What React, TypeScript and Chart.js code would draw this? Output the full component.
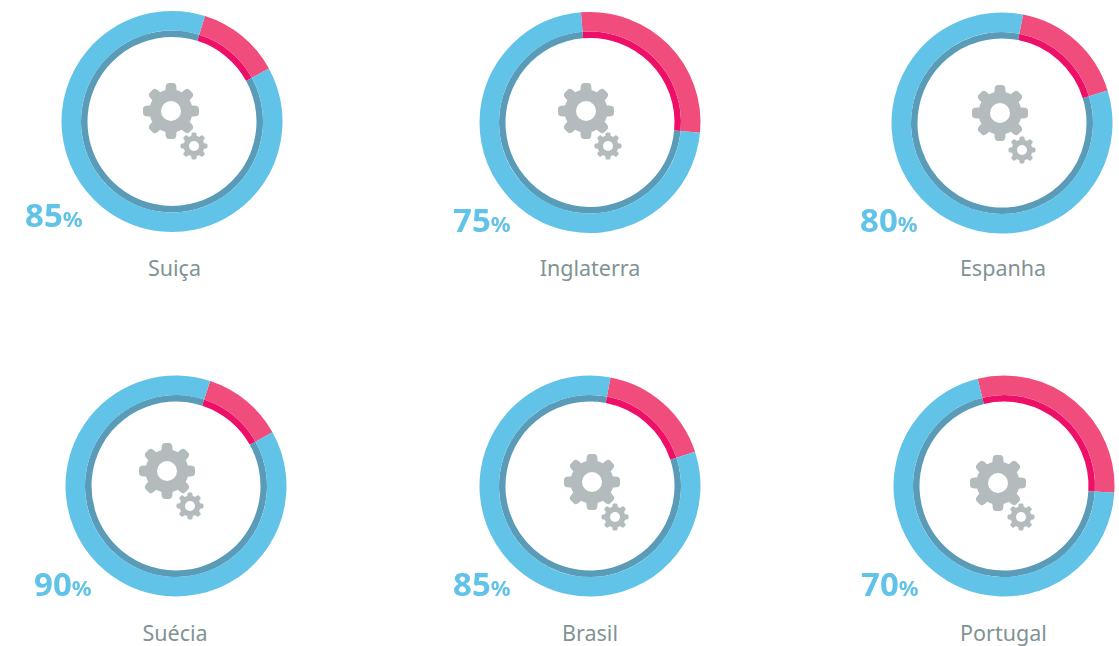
import React, { useEffect, useRef } from "react";
import { Chart, registerables } from "chart.js";

Chart.register(...registerables);

const countries = ["Suiça", "Inglaterra", "Espanha", "Suécia", "Brasil", "Portugal"];
const percentLabels = ["85", "75", "80", "90", "85", "70"];
const highlightShares = [12.2, 27.8, 17.2, 11.9, 17, 29.8];
const highlightStarts = [17.4, -4.7, 11, 18, 10.7, -13.8];

const centers = [[172, 121.5], [590, 122.5], [1002, 123], [176, 486], [590, 486], [1004, 486]];
const bigGears = [[171, 111], [586, 111], [1000, 113], [167, 471], [592, 482], [998, 483]];
const smallGears = [[194, 146], [608, 146], [1022, 150], [190, 506], [615, 517], [1021, 517]];
const percentX = [25, 453, 860, 34, 453, 861];
const percentBaseline = [235, 240, 240, 604, 604, 604];
const labelCenters = [174.5, 590, 1003, 175, 590, 1003.5];
const labelBaseline = [283, 283, 283, 648, 648, 648];

const BOX = 240;
const RADIUS = 110.5;
const FONT = '"Noto Sans", sans-serif';

function gearPath(ctx: CanvasRenderingContext2D, x: number, y: number, R: number, hole: number) {
  const edge = R * 0.07;
  const body = new Path2D();
  const n = 720;
  for (let i = 0; i <= n; i++) {
    const t = (i / n) * Math.PI * 2;
    const c = Math.max(0, Math.min(1, (Math.cos(8 * t) + 0.05) / 0.75));
    const s = c * c * (3 - 2 * c);
    const r = R * (0.7 + 0.23 * s);
    const px = x + Math.sin(t) * r;
    const py = y - Math.cos(t) * r;
    if (i === 0) body.moveTo(px, py);
    else body.lineTo(px, py);
  }
  body.closePath();
  ctx.fillStyle = "#B3BBBD";
  ctx.strokeStyle = "#B3BBBD";
  ctx.lineJoin = "round";
  ctx.lineWidth = edge * 2;
  ctx.fill(body);
  ctx.stroke(body);
  ctx.beginPath();
  ctx.arc(x, y, hole, 0, Math.PI * 2);
  ctx.fillStyle = "#FFFFFF";
  ctx.fill();
}

function Ring({ index }: { index: number }) {
  const ref = useRef<HTMLCanvasElement | null>(null);
  const [cx, cy] = centers[index];
  const left = Math.floor(cx - BOX / 2);
  const top = Math.floor(cy - BOX / 2);
  useEffect(() => {
    if (!ref.current) return;
    const share = highlightShares[index];
    const values = [share, 100 - share];
    const pad = BOX / 2 - RADIUS;
    const dx = cx - BOX / 2 - left;
    const dy = cy - BOX / 2 - top;
    const gears = {
      id: "gears",
      afterDraw(chart: Chart) {
        const ctx = chart.ctx;
        ctx.save();
        gearPath(ctx, bigGears[index][0] - left, bigGears[index][1] - top, 28, 10);
        gearPath(ctx, smallGears[index][0] - left, smallGears[index][1] - top, 13.5, 5);
        ctx.restore();
      },
    };
    const chart = new Chart(ref.current, {
      type: "doughnut",
      data: {
        labels: ["Restante", "Percentual"],
        datasets: [
          { data: values, backgroundColor: ["#F14D7C", "#61C3E8"], borderWidth: 0, weight: 19.5 } as any,
          { data: values, backgroundColor: ["#EE0F68", "#5A9BB8"], borderWidth: 0, weight: 6.5 } as any,
        ],
      },
      options: {
        responsive: false,
        animation: false,
        rotation: highlightStarts[index],
        cutout: `${(84.5 / RADIUS) * 100}%`,
        layout: { padding: { left: pad + dx, right: pad - dx, top: pad + dy, bottom: pad - dy } },
        plugins: { legend: { display: false }, tooltip: { enabled: false } },
        events: [],
      },
      plugins: [gears],
    });
    return () => chart.destroy();
  }, [index]);
  return (
    <canvas
      ref={ref}
      width={BOX}
      height={BOX}
      style={{ position: "absolute", left, top, width: BOX, height: BOX, display: "block" }}
    />
  );
}

export default function App() {
  return (
    <div style={{ position: "fixed", left: 0, top: 0, width: 1119, height: 646, overflow: "hidden", background: "#fff", fontFamily: FONT }}>
      {countries.map((name, i) => (
        <React.Fragment key={name}>
          <Ring index={i} />
          <div
            style={{
              position: "absolute",
              left: percentX[i],
              top: percentBaseline[i] - 40,
              height: 40,
              lineHeight: "40px",
              color: "#61C3E8",
              fontWeight: 700,
              fontSize: 33,
              whiteSpace: "nowrap",
            }}
          >
            {percentLabels[i]}
            <span style={{ fontSize: 22 }}>%</span>
          </div>
          <div
            style={{
              position: "absolute",
              left: labelCenters[i] - 100,
              width: 200,
              top: labelBaseline[i] - 30,
              height: 30,
              lineHeight: "30px",
              textAlign: "center",
              color: "#7F9394",
              fontSize: 21.5,
              whiteSpace: "nowrap",
            }}
          >
            {name}
          </div>
        </React.Fragment>
      ))}
    </div>
  );
}
